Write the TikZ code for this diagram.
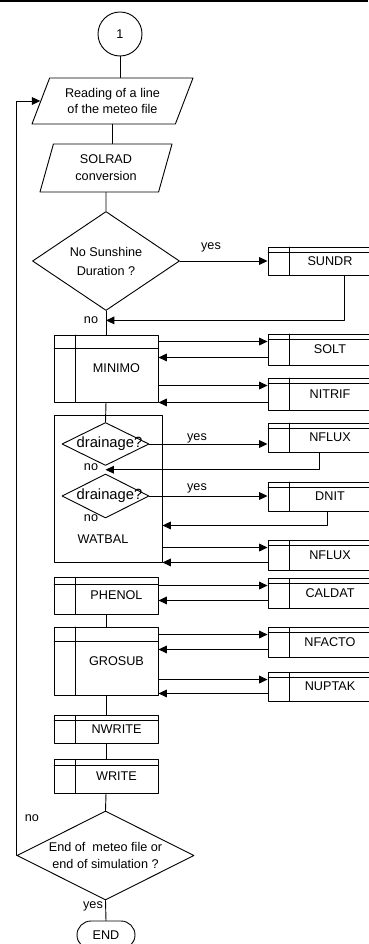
\documentclass[tikz,border=0pt]{standalone}
\usepackage{fontspec}
\setmainfont{Liberation Sans}
\usetikzlibrary{shapes.geometric,shapes.misc,arrows.meta,calc}

\tikzset{
    linea/.style={line width=0.65pt},
    flecha/.style={line width=0.65pt,-{Triangle[length=6pt,width=5.5pt]}},
    topband/.store in=\topband, topband=5,
    subprog/.style={draw,line width=0.65pt,rectangle,inner sep=0pt,
        execute at begin node={\hspace*{0.525cm}},
        path picture={
            \draw[line width=0.65pt] ($(path picture bounding box.north west)+(21,0)$) -- ($(path picture bounding box.south west)+(21,0)$);
            \draw[line width=0.65pt] ($(path picture bounding box.north west)+(0,\topband)$) -- ($(path picture bounding box.north east)+(0,\topband)$);
        }},
    decision/.style={draw,line width=0.65pt,diamond,inner sep=0pt,align=center},
    lectura/.style={draw,line width=0.65pt,trapezium,trapezium stretches body,inner sep=0pt,align=center},
}

\begin{document}
\begin{tikzpicture}[x=0.025cm,y=-0.025cm,line cap=round,line join=round,font=\fontsize{9}{12}\selectfont]
        \useasboundingbox (0,0) rectangle (368,944);
        \fill (0,0) rectangle (368,2.2);

        % Inicio y lectura de datos
        \node[draw,linea,circle,minimum size=1.1cm,inner sep=0pt] (uno) at (120,34) {1};
        \node[lectura,trapezium left angle=56,trapezium right angle=124,minimum width=4.025cm,minimum height=1.15cm] (leer) at (112.5,101) {Reading of a line\\of the meteo file};
        \node[lectura,trapezium left angle=62.5,trapezium right angle=117.5,minimum width=3.3cm,minimum height=1.2cm] (solrad) at (106,168) {SOLRAD\\conversion};

        % Decisiones
        \node[decision,shape aspect=1.49,minimum width=3.675cm,minimum height=2.475cm,font=\fontsize{9}{13.5}\selectfont] (sol) at (106,261) {No Sunshine\\Duration ?};
        \node[decision,shape aspect=1.99,minimum width=4.425cm,minimum height=2.225cm] (fin) at (105.5,855.5) {End of\ \ meteo file or\\end of simulation ?};

        % Subprogramas de la columna principal
        \node[subprog,topband=13,minimum width=2.6cm,minimum height=1.675cm] (minimo) at (106,368.5) {MINIMO};
        \node[draw,linea,inner sep=0pt,minimum width=2.7cm,minimum height=3.675cm] (watbal) at (108,488.5) {};
        \node (twatbal) at (103,539) {WATBAL};
        \node[decision,shape aspect=2,minimum width=2.175cm,minimum height=1.075cm,font=\fontsize{10.5}{12}\selectfont] (dren1) at (105.5,444) {\makebox[0pt]{\hspace*{0.2cm}drainage?}};
        \node[decision,shape aspect=2,minimum width=2.175cm,minimum height=1.1cm,font=\fontsize{10.5}{12}\selectfont] (dren2) at (105.5,496) {\makebox[0pt]{\hspace*{0.2cm}drainage?}};
        \node[subprog,topband=7,minimum width=2.6cm,minimum height=0.925cm] (phenol) at (106,595.5) {PHENOL};
        \node[subprog,topband=14,minimum width=2.6cm,minimum height=1.7cm] (grosub) at (106,661) {GROSUB};
        \node[subprog,minimum width=2.6cm,minimum height=0.7cm] (nwrite) at (106,729) {NWRITE};
        \node[subprog,topband=6,minimum width=2.6cm,minimum height=0.85cm] (write) at (106,776) {WRITE};
        \node[draw,linea,rounded rectangle,minimum width=1.45cm,minimum height=0.7cm,inner sep=0pt] (fint) at (106,935) {END};

        % Subprogramas llamados (columna derecha)
        \foreach \nombre/\texto/\yc/\alto in {sundr/SUNDR/261/0.7, solt/SOLT/349.5/0.775, nitrif/NITRIF/394/0.8,
            nfluxa/NFLUX/437.5/0.725, dnit/DNIT/496.5/0.725, nfluxb/NFLUX/555/0.75,
            caldat/CALDAT/593/0.75, nfacto/NFACTO/642/0.75, nuptak/NUPTAK/686.5/0.725} {
            \node[subprog,minimum width=2.575cm,minimum height=\alto cm] (\nombre) at (319.5,\yc) {\texto};
        }

        % Eje principal
        \draw[linea] (uno.south) -- (uno.south |- leer.north);
        \draw[linea] (leer.south) -- (leer.south |- solrad.north);
        \draw[linea] (solrad.south) -- (sol.north);
        \draw[linea] (sol.south) -- (minimo.north);
        \draw[linea] (minimo.south) -- (dren1.north);
        \draw[linea] (phenol.south) -- (grosub.north);
        \draw[linea] (grosub.south) -- (nwrite.north);
        \draw[linea] (nwrite.south) -- (write.north);
        \draw[linea] (write.south) -- (fin.north);
        \draw[linea] (fin.south) -- (fint.north);

        % Ramas yes / no
        \draw[flecha] (sol.east) -- (sundr.west);
        \draw[flecha] ($(sundr.south)+(25,0)$) |- ($(sol.south)!0.4!(minimo.north)$);
        \draw[flecha] (dren1.east) -- (dren1.east -| nfluxa.west);
        \draw[flecha] (nfluxa.south) |- ($(dren1.south)!0.5!(dren2.north)$);
        \draw[flecha] (dren2.east) -- (dren2.east -| dnit.west);
        \coordinate (r3) at ($(dnit.south)+(8,14)$);
        \draw[flecha] ($(dnit.south)+(8,0)$) -- (r3) -- (watbal.east |- r3);
        \draw[flecha] (fin.west) |- (leer.west);

        % Llamadas de ida y vuelta
        \foreach \caja/\origen in {solt/minimo, nitrif/minimo, nfluxb/watbal, caldat/phenol, nfacto/grosub, nuptak/grosub} {
            \coordinate (ida) at ($(\caja.north west)+(0,8)$);
            \coordinate (vuelta) at ($(\caja.south west)+(0,-8)$);
            \draw[flecha] (\origen.east |- ida) -- (ida);
            \draw[flecha] (vuelta) -- (\origen.east |- vuelta);
        }

        % Etiquetas
        \node (si1) at (211,247) {yes};
        \node (no1) at (91,320) {no};
        \node (si2) at (197,438) {yes};
        \node (no2) at (91,467) {no};
        \node (si3) at (197,488) {yes};
        \node (no3) at (91,518) {no};
        \node (no4) at (32,818) {no};
        \node (si4) at (93,906) {yes};
    \end{tikzpicture}
\end{document}
